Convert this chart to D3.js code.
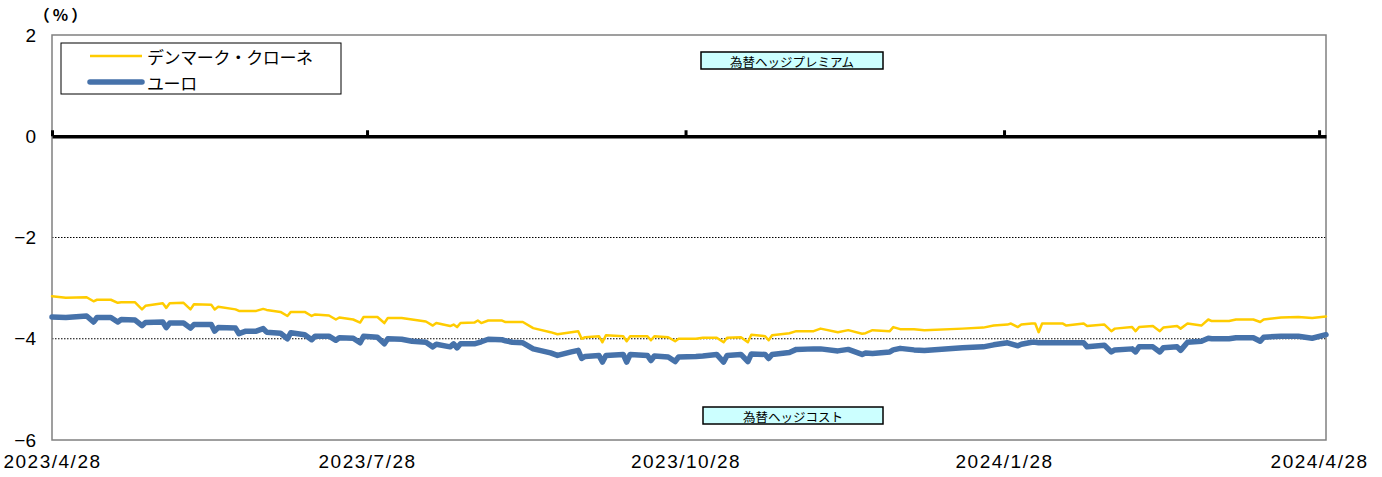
<!DOCTYPE html>
<html>
<head>
<meta charset="utf-8">
<script src="https://cdn.jsdelivr.net/npm/d3@7"></script>
<style>
  body { margin: 0; background: #fff; }
  svg { display: block; }
  text { font-family: "Noto Sans CJK JP", "Liberation Sans", sans-serif; fill: #000; }
</style>
</head>
<body>
<svg id="chart" width="1382" height="477"></svg>
<script>
/* ── Data ────────────────────────────────────────────────── */
const dates = [
  '2023-04-28','2023-05-02','2023-05-08','2023-05-10','2023-05-11','2023-05-15','2023-05-17','2023-05-18',
  '2023-05-22','2023-05-24','2023-05-25','2023-05-30','2023-05-31','2023-06-01','2023-06-05','2023-06-07',
  '2023-06-08','2023-06-13','2023-06-14','2023-06-15','2023-06-20','2023-06-21','2023-06-23','2023-06-26',
  '2023-06-28','2023-06-29','2023-07-03','2023-07-05','2023-07-06','2023-07-10','2023-07-12','2023-07-13',
  '2023-07-17','2023-07-19','2023-07-20','2023-07-24','2023-07-26','2023-07-27','2023-07-31','2023-08-02',
  '2023-08-03','2023-08-07','2023-08-10','2023-08-14','2023-08-16','2023-08-17','2023-08-21','2023-08-22',
  '2023-08-23','2023-08-24','2023-08-28','2023-08-29','2023-08-30','2023-09-01','2023-09-05','2023-09-06',
  '2023-09-08','2023-09-11','2023-09-14','2023-09-19','2023-09-21','2023-09-25','2023-09-27','2023-09-28',
  '2023-09-29','2023-10-03','2023-10-04','2023-10-05','2023-10-10','2023-10-11','2023-10-12','2023-10-17',
  '2023-10-18','2023-10-19','2023-10-23','2023-10-25','2023-10-26','2023-10-31','2023-11-02','2023-11-06',
  '2023-11-08','2023-11-09','2023-11-13','2023-11-15','2023-11-16','2023-11-20','2023-11-21','2023-11-22',
  '2023-11-27','2023-11-29','2023-12-04','2023-12-06','2023-12-11','2023-12-14','2023-12-18','2023-12-19',
  '2023-12-21','2023-12-26','2023-12-27','2023-12-29','2024-01-02','2024-01-05','2024-01-16','2024-01-22',
  '2024-01-25','2024-01-29','2024-01-30','2024-02-01','2024-02-02','2024-02-05','2024-02-06','2024-02-07',
  '2024-02-08','2024-02-14','2024-02-15','2024-02-20','2024-02-21','2024-02-26','2024-02-28','2024-02-29',
  '2024-03-05','2024-03-06','2024-03-07','2024-03-11','2024-03-13','2024-03-14','2024-03-18','2024-03-19',
  '2024-03-21','2024-03-25','2024-03-27','2024-03-28','2024-04-02','2024-04-04','2024-04-09','2024-04-11',
  '2024-04-12','2024-04-17','2024-04-22','2024-04-26','2024-04-30'
];

const dkkValues = [
  -3.16,-3.19,-3.18,-3.26,-3.23,-3.23,-3.29,-3.28,
  -3.28,-3.42,-3.35,-3.30,-3.39,-3.30,-3.29,-3.42,
  -3.32,-3.33,-3.42,-3.37,-3.42,-3.45,-3.45,-3.45,
  -3.41,-3.43,-3.47,-3.55,-3.47,-3.47,-3.55,-3.52,
  -3.54,-3.62,-3.58,-3.62,-3.68,-3.57,-3.57,-3.69,
  -3.59,-3.59,-3.62,-3.66,-3.74,-3.69,-3.75,-3.72,
  -3.77,-3.69,-3.68,-3.64,-3.69,-3.64,-3.64,-3.67,
  -3.67,-3.67,-3.79,-3.87,-3.91,-3.87,-3.85,-4.00,
  -3.97,-3.95,-4.07,-3.93,-3.95,-4.05,-3.95,-3.95,
  -4.03,-3.95,-3.97,-4.05,-4.00,-4.00,-3.98,-3.98,
  -4.07,-3.98,-3.97,-4.07,-3.92,-3.95,-4.03,-3.93,
  -3.89,-3.85,-3.85,-3.80,-3.87,-3.83,-3.90,-3.89,
  -3.83,-3.85,-3.77,-3.81,-3.81,-3.83,-3.80,-3.78,
  -3.74,-3.72,-3.70,-3.77,-3.72,-3.70,-3.70,-3.87,
  -3.70,-3.70,-3.74,-3.70,-3.75,-3.72,-3.85,-3.80,
  -3.77,-3.85,-3.77,-3.75,-3.85,-3.78,-3.75,-3.80,
  -3.70,-3.74,-3.62,-3.65,-3.65,-3.62,-3.62,-3.67,
  -3.62,-3.58,-3.57,-3.59,-3.56
];

const eurValues = [
  -3.57,-3.58,-3.55,-3.67,-3.58,-3.58,-3.67,-3.62,
  -3.63,-3.74,-3.68,-3.67,-3.78,-3.69,-3.69,-3.79,
  -3.72,-3.72,-3.85,-3.78,-3.79,-3.90,-3.85,-3.85,
  -3.80,-3.87,-3.89,-4.00,-3.88,-3.92,-4.02,-3.95,
  -3.95,-4.03,-3.98,-3.99,-4.08,-3.95,-3.97,-4.10,
  -4.00,-4.01,-4.05,-4.07,-4.16,-4.11,-4.16,-4.10,
  -4.18,-4.10,-4.10,-4.08,-4.06,-4.01,-4.02,-4.04,
  -4.07,-4.08,-4.20,-4.28,-4.33,-4.26,-4.23,-4.39,
  -4.35,-4.33,-4.46,-4.33,-4.31,-4.46,-4.31,-4.33,
  -4.43,-4.34,-4.36,-4.45,-4.36,-4.35,-4.34,-4.31,
  -4.46,-4.33,-4.31,-4.45,-4.30,-4.31,-4.39,-4.31,
  -4.27,-4.21,-4.20,-4.20,-4.24,-4.21,-4.31,-4.28,
  -4.29,-4.26,-4.22,-4.19,-4.22,-4.23,-4.18,-4.16,
  -4.12,-4.08,-4.10,-4.14,-4.11,-4.07,-4.07,-4.08,
  -4.08,-4.08,-4.08,-4.08,-4.16,-4.13,-4.26,-4.22,
  -4.20,-4.26,-4.16,-4.16,-4.26,-4.18,-4.16,-4.23,
  -4.07,-4.05,-3.99,-4.00,-4.00,-3.98,-3.98,-4.05,
  -3.97,-3.95,-3.95,-3.99,-3.92
];

const seriesNames = ['デンマーク・クローネ', 'ユーロ'];
const seriesColors = ['#FFCC00', '#4672AA'];
const yTickValues = [2, 0, -2, -4, -6];
const gridValues = [-2, -4];
const xTickDates = ['2023-04-28', '2023-07-28', '2023-10-28', '2024-01-28', '2024-04-28'];
const xDomain = ['2023-04-28', '2024-04-30'];
const noteTop = '為替ヘッジプレミアム';
const noteBottom = '為替ヘッジコスト';

/* ── Setup ───────────────────────────────────────────────── */
const parse = d3.timeParse('%Y-%m-%d');
const fmtTick = d => `${d.getFullYear()}/${d.getMonth() + 1}/${d.getDate()}`;

const svg = d3.select('#chart');
const plot = { left: 52, right: 1326, top: 35, bottom: 440 };

const x = d3.scaleTime()
  .domain(xDomain.map(parse))
  .range([plot.left, plot.right]);

const y = d3.scaleLinear()
  .domain([-6, 2])
  .range([plot.bottom, plot.top]);

/* ── Gridlines (dotted) ──────────────────────────────────── */
svg.append('g')
  .selectAll('line')
  .data(gridValues)
  .join('line')
  .attr('x1', plot.left).attr('x2', plot.right)
  .attr('y1', d => y(d)).attr('y2', d => y(d))
  .attr('stroke', '#000')
  .attr('stroke-width', 1)
  .attr('stroke-dasharray', '1.5,1.5');

/* ── Plot frame ──────────────────────────────────────────── */
svg.append('rect')
  .attr('x', plot.left).attr('y', plot.top)
  .attr('width', plot.right - plot.left)
  .attr('height', plot.bottom - plot.top)
  .attr('fill', 'none')
  .attr('stroke', '#808080')
  .attr('stroke-width', 1.5);

/* ── Y axis labels ───────────────────────────────────────── */
const yAxis = svg.append('g')
  .attr('transform', `translate(${plot.left},0)`)
  .call(d3.axisLeft(y).tickValues(yTickValues).tickSize(0).tickPadding(16)
    .tickFormat(d => d < 0 ? '−' + Math.abs(d) : d));
yAxis.select('.domain').remove();
yAxis.selectAll('text')
  .style('font-family', '"Liberation Sans", Arial, sans-serif')
  .style('font-size', '19px');

svg.append('text')
  .attr('x', 62).attr('y', 14)
  .attr('text-anchor', 'middle')
  .attr('dominant-baseline', 'central')
  .style('font-size', '16px')
  .style('font-weight', 'bold')
  .style('letter-spacing', '3px')
  .text('（%）');

/* ── X axis labels (bottom) ──────────────────────────────── */
const xAxis = svg.append('g')
  .attr('transform', `translate(0,${plot.bottom})`)
  .call(d3.axisBottom(x).tickValues(xTickDates.map(parse)).tickSize(0).tickPadding(15)
    .tickFormat(fmtTick));
xAxis.select('.domain').remove();
xAxis.selectAll('text')
  .style('font-family', '"Liberation Sans", Arial, sans-serif')
  .style('font-size', '19px')
  .style('letter-spacing', '1.5px');

/* ── Series lines ────────────────────────────────────────── */
const series = [dkkValues, eurValues].map((vals, i) => ({
  name: seriesNames[i],
  color: seriesColors[i],
  width: i === 0 ? 2.5 : 5.5,
  points: dates.map((d, j) => ({ date: parse(d), value: vals[j] }))
}));

const line = d3.line()
  .x(d => x(d.date))
  .y(d => y(d.value));

svg.append('g')
  .selectAll('path')
  .data(series)
  .join('path')
  .attr('d', d => line(d.points))
  .attr('fill', 'none')
  .attr('stroke', d => d.color)
  .attr('stroke-width', d => d.width)
  .attr('stroke-linejoin', 'round')
  .attr('stroke-linecap', 'round');

/* ── Zero axis with upward ticks ─────────────────────────── */
const zeroAxis = svg.append('g')
  .attr('transform', `translate(0,${y(0)})`)
  .call(d3.axisTop(x).tickValues(xTickDates.map(parse)).tickSizeInner(6).tickSizeOuter(0).tickFormat(''));
zeroAxis.select('.domain')
  .attr('stroke', '#000')
  .attr('stroke-width', 3.5);
zeroAxis.selectAll('.tick line')
  .attr('stroke', '#000')
  .attr('stroke-width', 3);

/* ── Notes ───────────────────────────────────────────────── */
function note(text, x0, y0, w, h) {
  svg.append('rect')
    .attr('x', x0).attr('y', y0).attr('width', w).attr('height', h)
    .attr('fill', '#CCFFFF')
    .attr('stroke', '#000')
    .attr('stroke-width', 1.5);
  svg.append('text')
    .attr('x', x0 + w / 2).attr('y', y0 + h / 2 + 0.5)
    .attr('text-anchor', 'middle')
    .attr('dominant-baseline', 'central')
    .style('font-size', '12.5px')
    .text(text);
}
note(noteTop, 701, 52, 182, 17);
note(noteBottom, 703, 407, 180, 17);

/* ── Legend ──────────────────────────────────────────────── */
const legend = svg.append('g');
legend.append('rect')
  .attr('x', 61).attr('y', 43).attr('width', 280).attr('height', 51)
  .attr('fill', '#fff')
  .attr('stroke', '#000')
  .attr('stroke-width', 1);

series.forEach((s, i) => {
  const ly = 56 + i * 26;
  legend.append('line')
    .attr('x1', 90).attr('x2', 142)
    .attr('y1', ly).attr('y2', ly)
    .attr('stroke', s.color)
    .attr('stroke-width', s.width)
    .attr('stroke-linecap', i === 0 ? 'butt' : 'round');
  legend.append('text')
    .attr('x', 147).attr('y', ly)
    .attr('dominant-baseline', 'central')
    .style('font-size', '17px')
    .style('letter-spacing', '-0.4px')
    .text(s.name);
});
</script>
</body>
</html>
